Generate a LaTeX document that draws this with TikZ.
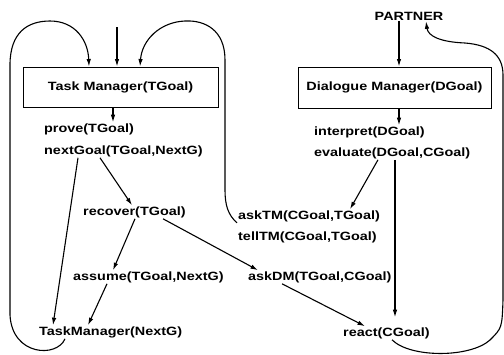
\documentclass[tikz,border=0pt]{standalone}
\usepackage{fontspec}
\setmainfont{Liberation Sans}[FakeStretch=1.2]
\usetikzlibrary{arrows.meta,calc}
\begin{document}
\begin{tikzpicture}[x=1pt,y=-1pt,
  lab/.style={font=\bfseries\fontsize{12}{14}\selectfont, inner sep=1pt},
  mgr/.style={draw, line width=1pt, minimum width=#1, inner sep=0pt},
  arr/.style={line width=1.1pt, -{Latex[length=7.5pt,width=4.5pt]}},
  loop/.style={line width=1.1pt, -{Latex[length=7.5pt,width=4.5pt]}}]
\useasboundingbox (0,0) rectangle (504,354);
% managers
\node[mgr=195pt, minimum height=40pt, lab] (tm) at (120.5,87) {Task Manager(TGoal)};
\node[mgr=193pt, minimum height=41pt, lab] (dm) at (394.5,87.5) {Dialogue Manager(DGoal)};
% labels
\node[lab] (partner) at (409,16) {PARTNER};
\node[lab, anchor=west] (prove) at (43,129) {prove(TGoal)};
\node[lab, anchor=west] (nextgoal) at (43,151) {nextGoal(TGoal,NextG)};
\node[lab, anchor=west] (recover) at (82,212) {recover(TGoal)};
\node[lab, anchor=west] (assume) at (72,277) {assume(TGoal,NextG)};
\node[lab, anchor=west] (tmn) at (38,332) {TaskManager(NextG)};
\node[lab, anchor=west] (interpret) at (313,132) {interpret(DGoal)};
\node[lab, anchor=west] (evaluate) at (313,153) {evaluate(DGoal,CGoal)};
\node[lab, anchor=west] (asktm) at (237,216) {askTM(CGoal,TGoal)};
\node[lab, anchor=west] (telltm) at (237,237) {tellTM(CGoal,TGoal)};
\node[lab, anchor=west] (askdm) at (247,277) {askDM(TGoal,CGoal)};
\node[lab, anchor=west] (react) at (342,333) {react(CGoal)};
\coordinate (tin) at (117,27);
% straight arrows
\draw[arr] (tin) -- (117,0 |- tm.north);
\draw[arr] (113,0 |- tm.south) -- (113,0 |- prove.north);
\draw[arr] (78,0 |- nextgoal.south) -- (53,0 |- tmn.north);
\draw[arr] (100,0 |- nextgoal.south) -- (132,0 |- recover.north);
\draw[arr] (135,0 |- recover.south) -- (113,0 |- assume.north);
\draw[arr] (163,0 |- recover.south) -- (258,0 |- askdm.north);
\draw[arr] (107,0 |- assume.south) -- (88,0 |- tmn.north);
\draw[arr] (282,0 |- askdm.south) -- (365,0 |- react.north);
\draw[arr] (399,0 |- partner.south) -- (399,0 |- dm.north);
\draw[arr] (399,0 |- dm.south) -- (399,0 |- interpret.north);
\draw[arr] (378,0 |- evaluate.south) -- (350,0 |- asktm.north);
\draw[arr, shorten >=9pt] (395,0 |- evaluate.south) -- (395,0 |- react.north);
% loops
\draw[loop] (65,0 |- tmn.south) .. controls (57,358) and (12,356) .. (10,315)
  -- (10,65) .. controls (10,32) and (28,21) .. (50,21)
  .. controls (75,21) and (88,40) .. (89,0 |- tm.north);
\draw[loop] (asktm.south west) .. controls (228,215) and (225,205) .. (225,190)
  -- (225,60) .. controls (225,30) and (205,20) .. (185,21)
  .. controls (160,22) and (142,40) .. (140,0 |- tm.north);
\draw[loop] (392,0 |- react.south) .. controls (410,358) and (470,358) .. (490,340)
  .. controls (502,328) .. (503,300) -- (503,75)
  .. controls (503,55) and (490,45) .. (465,43)
  .. controls (440,42) and (428,36) .. (426,0 |- partner.south);
\end{tikzpicture}
\end{document}
